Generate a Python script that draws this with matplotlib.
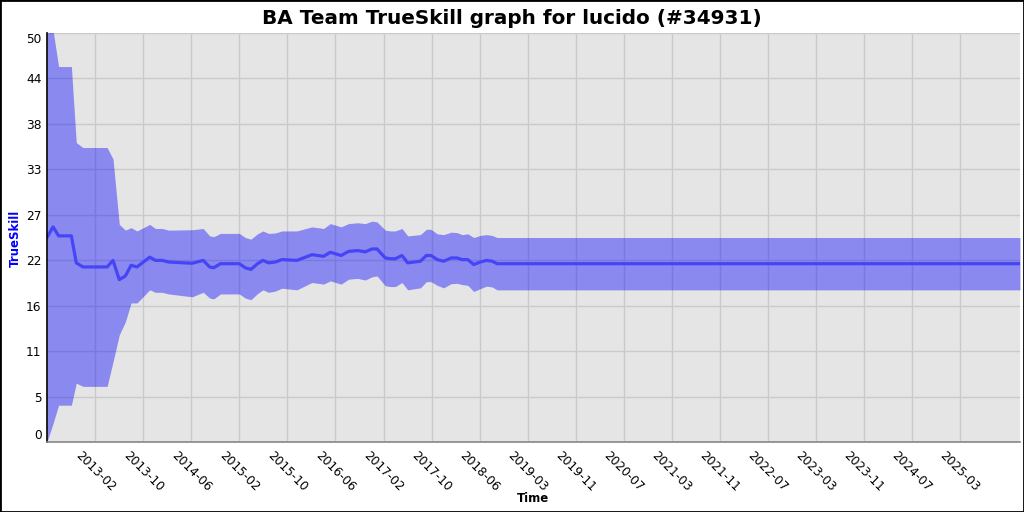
import numpy as np
import pandas as pd
import matplotlib
matplotlib.use("Agg")
import matplotlib.pyplot as plt
from matplotlib.patches import Rectangle

# TrueSkill history (mu and sigma)
dates = [
    "2012-06-19", "2012-07-20", "2012-08-17", "2012-10-21", "2012-11-15",
    "2012-12-19", "2013-04-21", "2013-05-21", "2013-06-22", "2013-07-23",
    "2013-08-21", "2013-09-20", "2013-11-24", "2013-12-23", "2014-01-26",
    "2014-02-28", "2014-06-28", "2014-08-23", "2014-09-25", "2014-10-16",
    "2014-11-19", "2015-02-23", "2015-03-25", "2015-04-23", "2015-05-27",
    "2015-06-23", "2015-07-22", "2015-08-25", "2015-09-28", "2015-12-13",
    "2016-02-28", "2016-04-27", "2016-05-31", "2016-07-25", "2016-09-01",
    "2016-10-17", "2016-11-25", "2016-12-30", "2017-01-24", "2017-03-07",
    "2017-04-02", "2017-04-27", "2017-05-31", "2017-06-29", "2017-09-02",
    "2017-10-02", "2017-10-26", "2017-11-26", "2017-12-29", "2018-02-05",
    "2018-03-07", "2018-04-02", "2018-05-01", "2018-05-31", "2018-07-04",
    "2018-08-04", "2018-09-02", "2018-09-27", "2026-01-10",
]
mu = [
    25.0, 26.3, 25.2, 25.2, 21.9, 21.4, 21.4, 22.2, 19.85, 20.3,
    21.6, 21.4, 22.6, 22.2, 22.2, 22.0, 21.85, 22.2, 21.4, 21.3,
    21.8, 21.8, 21.3, 21.1, 21.8, 22.2, 21.9, 22.0, 22.3, 22.2,
    22.9, 22.7, 23.2, 22.8, 23.3, 23.4, 23.25, 23.6, 23.6, 22.5,
    22.4, 22.4, 22.8, 21.9, 22.1, 22.8, 22.8, 22.3, 22.1, 22.5,
    22.5, 22.3, 22.3, 21.7, 22.0, 22.2, 22.1, 21.8, 21.8,
]
upper = [
    50.0, 50.3, 45.9, 45.9, 36.6, 36.0, 36.0, 34.6, 26.6, 25.9,
    26.2, 25.8, 26.6, 26.1, 26.1, 25.9, 25.95, 26.1, 25.2, 25.1,
    25.5, 25.5, 25.0, 24.8, 25.45, 25.8, 25.5, 25.55, 25.8, 25.8,
    26.3, 26.1, 26.7, 26.3, 26.7, 26.8, 26.7, 27.0, 26.9, 25.9,
    25.8, 25.8, 26.1, 25.2, 25.35, 26.0, 26.0, 25.45, 25.35, 25.65,
    25.6, 25.35, 25.45, 25.0, 25.25, 25.35, 25.25, 25.0, 25.0,
]
sigma = (np.array(upper) - np.array(mu)) / 3.0

tick_labels = [
    "2013-02", "2013-10", "2014-06", "2015-02", "2015-10", "2016-06",
    "2017-02", "2017-10", "2018-06", "2019-03", "2019-11", "2020-07",
    "2021-03", "2021-11", "2022-07", "2023-03", "2023-11", "2024-07",
    "2025-03",
]

x = pd.to_datetime(dates)
mu = np.array(mu)
lo = mu - 3 * sigma
hi = mu + 3 * sigma

fig = plt.figure(figsize=(10.24, 5.12), dpi=100)
fig.patch.set_facecolor("white")
ax = fig.add_axes([47 / 1024, 70 / 512, 973 / 1024, 409 / 512])
ax.set_facecolor("#e5e5e5")

ax.fill_between(x, lo, hi, color="#0000ff", alpha=0.4, linewidth=0)
ax.plot(x, mu, color="#4545f7", linewidth=2.3)

ax.set_xlim(x[0], x[-1])
ax.set_ylim(0, 50)

# y ticks: 10 evenly spaced values, labels truncated to ints
yt = np.linspace(0, 50, 10)
ax.set_yticks(yt)
ax.set_yticklabels([str(int(v)) for v in yt])
ylabs = ax.get_yticklabels()
ylabs[0].set_va("bottom")
ylabs[-1].set_va("top")

tick_pos = [pd.Timestamp("2013-02-20") + k * pd.Timedelta(days=244.5)
            for k in range(len(tick_labels))]
ax.set_xticks(tick_pos)
ax.set_xticklabels(tick_labels, rotation=-45, ha="center")

ax.tick_params(axis="both", length=0, labelsize=8.7, colors="black")
ax.tick_params(axis="x", pad=5)
ax.tick_params(axis="y", pad=4)

ax.grid(True, color="#cacaca", linewidth=1.0)
ax.set_axisbelow(True)

for s in ["top", "right"]:
    ax.spines[s].set_visible(False)
ax.spines["left"].set_color("black")
ax.spines["left"].set_linewidth(1.2)
ax.spines["bottom"].set_color("#888888")
ax.spines["bottom"].set_linewidth(1.2)

fig.text(0.5, 1 - 18 / 512, "BA Team TrueSkill graph for lucido (#34931)",
         ha="center", va="center", fontsize=14.4, fontweight="bold")
fig.text(15 / 1024, 1 - 238 / 512, "TrueSkill", rotation=90, ha="center",
         va="center", fontsize=8.5, fontweight="bold", color="#0000ff")
fig.text(533 / 1024, 1 - 499 / 512, "Time", ha="center", va="center",
         fontsize=8.5, fontweight="bold")

fig.patches.append(Rectangle((0, 0), 1, 1, transform=fig.transFigure,
                             fill=False, edgecolor="black", linewidth=2))

fig.savefig("out.png", dpi=100)
